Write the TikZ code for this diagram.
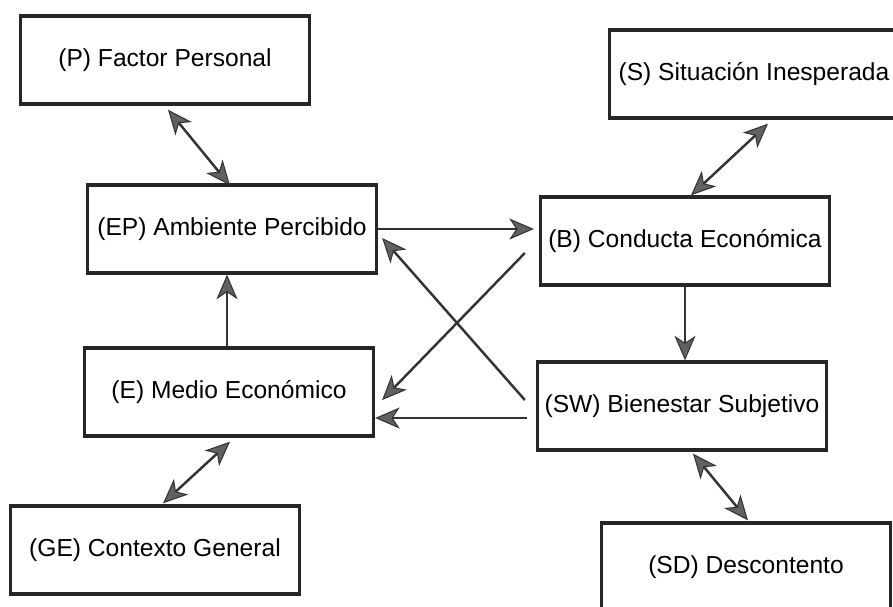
\documentclass[tikz,border=0pt]{standalone}
\usepackage{fontspec}
\setmainfont{Liberation Sans}
\usetikzlibrary{arrows.meta}
\usetikzlibrary{calc}

\begin{document}
\begin{tikzpicture}[x=0.02cm,y=-0.02cm,
  >={Stealth[length=14pt,width=12pt,inset=4pt,fill=black!62,line width=0.6pt]},
  box/.style={draw=black!85,line width=1.9pt,rectangle,minimum width=5.78cm,minimum height=1.76cm,inner sep=0pt,font=\fontsize{14}{16}\selectfont},
  link/.style={draw=black!80,line width=1.4pt}]
\useasboundingbox (0,0) rectangle (893,606);
\node[box] (P) at (165,60) {(P) Factor Personal};
\node[box] (S) at (754,74) {(S) Situación Inesperada};
\node[box] (EP) at (232,229) {(EP) Ambiente Percibido};
\node[box] (B) at (685,241) {(B) Conducta Económica};
\node[box] (E) at (229,392) {(E) Medio Económico};
\node[box] (SW) at (682,406) {(SW) Bienestar Subjetivo};
\node[box] (GE) at (155,550) {(GE) Contexto General};
\node[box] (SD) at (746,567) {(SD) Descontento};

\draw[link,<->] ($(P.south)+(3,4)$) -- ($(EP.north)+(-2,2)$);
\draw[link,<->] ($(S.south)+(14,4)$) -- ($(B.north)+(6,0)$);
\draw[link,->] (EP.east) -- ($(EP.east -| B.west)+(-5,0)$);
\draw[link,->] (B.south) -- (B.south |- SW.north);
\coordinate (eTop) at ($(E.north)+(-2,0)$);
\draw[link,->] (eTop) -- (eTop |- EP.south);
\draw[link,->] ($(B.west)+(-14,12)$) -- ($(E.east)+(7,8)$);
\draw[link,->] ($(SW.west)+(-11,-6)$) -- ($(EP.east)+(4,9)$);
\coordinate (swLeft) at ($(SW.west)+(-9,12)$);
\draw[link,->] (swLeft) -- (swLeft -| E.east);
\draw[link,<->] ($(E.south)+(1,4)$) -- ($(GE.north)+(8,-1)$);
\draw[link,<->] ($(SW.south)+(11,2)$) -- ($(SD.north)+(2,-1)$);

\end{tikzpicture}
\end{document}
